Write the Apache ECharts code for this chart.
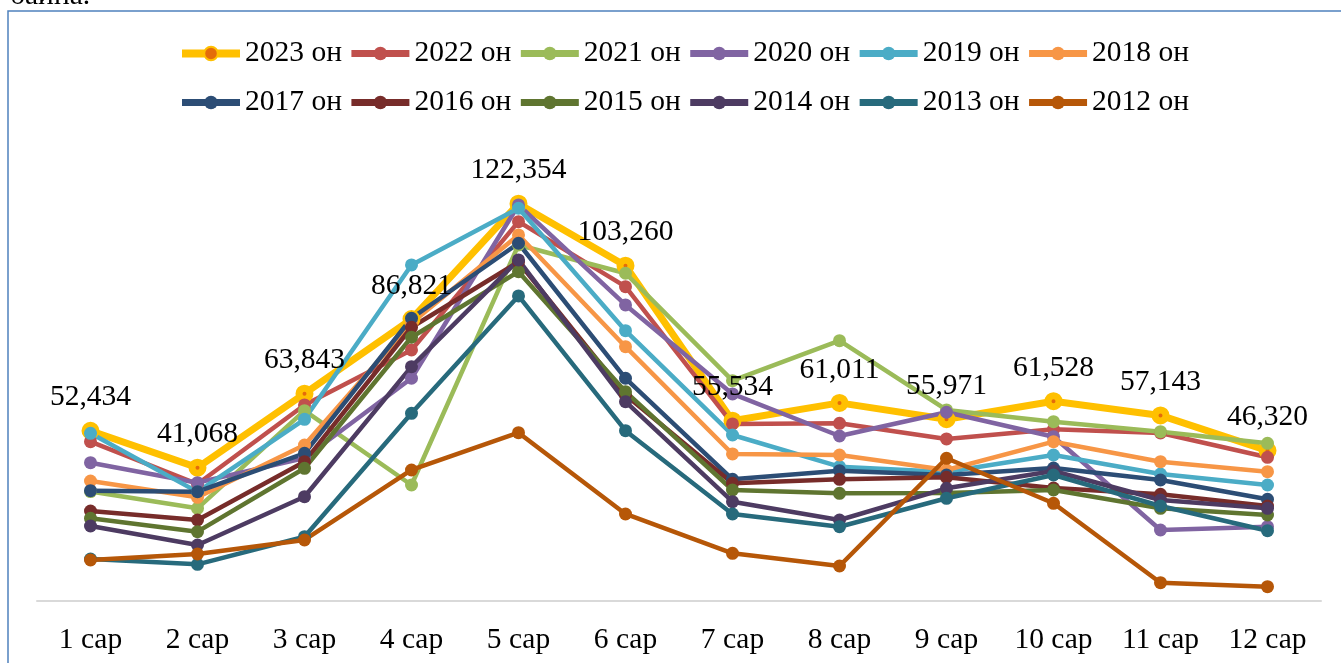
<!DOCTYPE html>
<html>
<head>
<meta charset="utf-8">
<script src="https://cdn.jsdelivr.net/npm/echarts@6/dist/echarts.min.js"></script>
<style>
html,body{margin:0;padding:0;background:#fff;}
#c{width:1341px;height:663px;}
</style>
</head>
<body>
<div id="c"></div>
<script>
var months = ['1 сар','2 сар','3 сар','4 сар','5 сар','6 сар','7 сар','8 сар','9 сар','10 сар','11 сар','12 сар'];
var seriesNames = ['2023 он','2022 он','2021 он','2020 он','2019 он','2018 он','2017 он','2016 он','2015 он','2014 он','2013 он','2012 он'];
var y2023 = [52434, 41068, 63843, 86821, 122354, 103260, 55534, 61011, 55971, 61528, 57143, 46320];
var y2022 = [49070, 36040, 60370, 77310, 116830, 96810, 54520, 54730, 49900, 52880, 51740, 44260];
var y2021 = [33700, 28550, 58620, 35730, 109650, 100930, 67860, 80170, 58830, 55220, 52150, 48570];
var y2020 = [42600, 36440, 44040, 68590, 121970, 91170, 63760, 50820, 58120, 50600, 21870, 22880];
var y2019 = [51650, 33600, 55960, 103490, 120950, 83250, 51130, 41370, 39730, 44970, 39120, 35730];
var y2018 = [36960, 31930, 48050, 85620, 112730, 78320, 45280, 44970, 40350, 49060, 42900, 39820];
var y2017 = [33980, 33670, 45490, 87070, 110170, 68590, 37480, 40130, 38810, 40960, 37270, 31320];
var y2016 = [27720, 24950, 42900, 84300, 104400, 63450, 36250, 37480, 38100, 34800, 32860, 29260];
var y2015 = [25470, 21350, 40870, 81220, 101420, 64470, 34190, 33170, 33260, 34190, 28550, 26490];
var y2014 = [23100, 17250, 32120, 72170, 105030, 61390, 30590, 24950, 34710, 40040, 31110, 28550];
var y2013 = [12940, 11300, 19800, 57810, 93940, 52450, 26800, 22880, 31630, 38810, 29260, 21650];
var y2012 = [12630, 14480, 18790, 40350, 51840, 26800, 14690, 10780, 43950, 30090, 5640, 4400];

var allData = [y2023, y2022, y2021, y2020, y2019, y2018, y2017, y2016, y2015, y2014, y2013, y2012];
var colors = ['#FFC000','#C0504D','#9BBB59','#8064A2','#4BACC6','#F79646','#2C4D75','#772C2A','#5F7530','#4D3B62','#276A7C','#B65708'];

var FONT = '"Liberation Serif", "Times New Roman", serif';
var FS = 29.5;

function fmt(v){ return String(v).replace(/\B(?=(\d{3})+(?!\d))/g, ','); }

var series = allData.map(function(d, i){
  var s = {
    name: seriesNames[i],
    type: 'line',
    data: d,
    symbol: 'circle',
    symbolSize: 13,
    lineStyle: {color: colors[i], width: 4.5},
    itemStyle: {color: colors[i]},
    emphasis: {disabled: true},
    animation: false
  };
  if (i === 0) {
    s.symbolSize = 11;
    s.lineStyle = {color: colors[0], width: 7};
    s.itemStyle = {color: '#E46C0A', borderColor: colors[0], borderWidth: 7};
    s.label = {
      show: true,
      position: 'top',
      distance: 9,
      color: '#000',
      fontFamily: FONT,
      fontSize: FS,
      formatter: function(p){ return fmt(p.value); }
    };
  }
  return s;
});

var legendData = seriesNames.map(function(n, i){
  return i === 0 ? {name: n, lineStyle: {width: 8}} : {name: n};
});

var chart = echarts.init(document.getElementById('c'), null, {renderer: 'canvas'});
chart.setOption({
  backgroundColor: '#fff',
  color: colors,
  animation: false,
  graphic: [
    {type: 'rect', shape: {x: 8, y: 11, width: 1345, height: 670}, style: {fill: 'none', stroke: '#4F81BD', lineWidth: 1.5}, silent: true},
    {type: 'text', style: {text: 'байна.', x: 10, y: 11, verticalAlign: 'bottom', font: FS + 'px ' + FONT, fill: '#000'}, silent: true}
  ],
  legend: {
    left: 178,
    top: 32,
    width: 1060,
    padding: 0,
    itemWidth: 58,
    itemHeight: 17,
    itemGap: 6,
    lineStyle: {width: 7},
    textStyle: {fontFamily: FONT, fontSize: FS, color: '#000', lineHeight: 43},
    data: legendData
  },
  grid: {left: 37, right: 20, top: 146.4, bottom: 62, containLabel: false},
  xAxis: {
    type: 'category',
    data: months,
    boundaryGap: true,
    axisTick: {show: false},
    axisLine: {lineStyle: {color: '#D9D9D9', width: 2}},
    axisLabel: {color: '#000', fontFamily: FONT, fontSize: FS, margin: 24}
  },
  yAxis: {
    type: 'value',
    min: 0,
    max: 140000,
    show: false,
    splitLine: {show: false}
  },
  series: series
});
</script>
</body>
</html>
